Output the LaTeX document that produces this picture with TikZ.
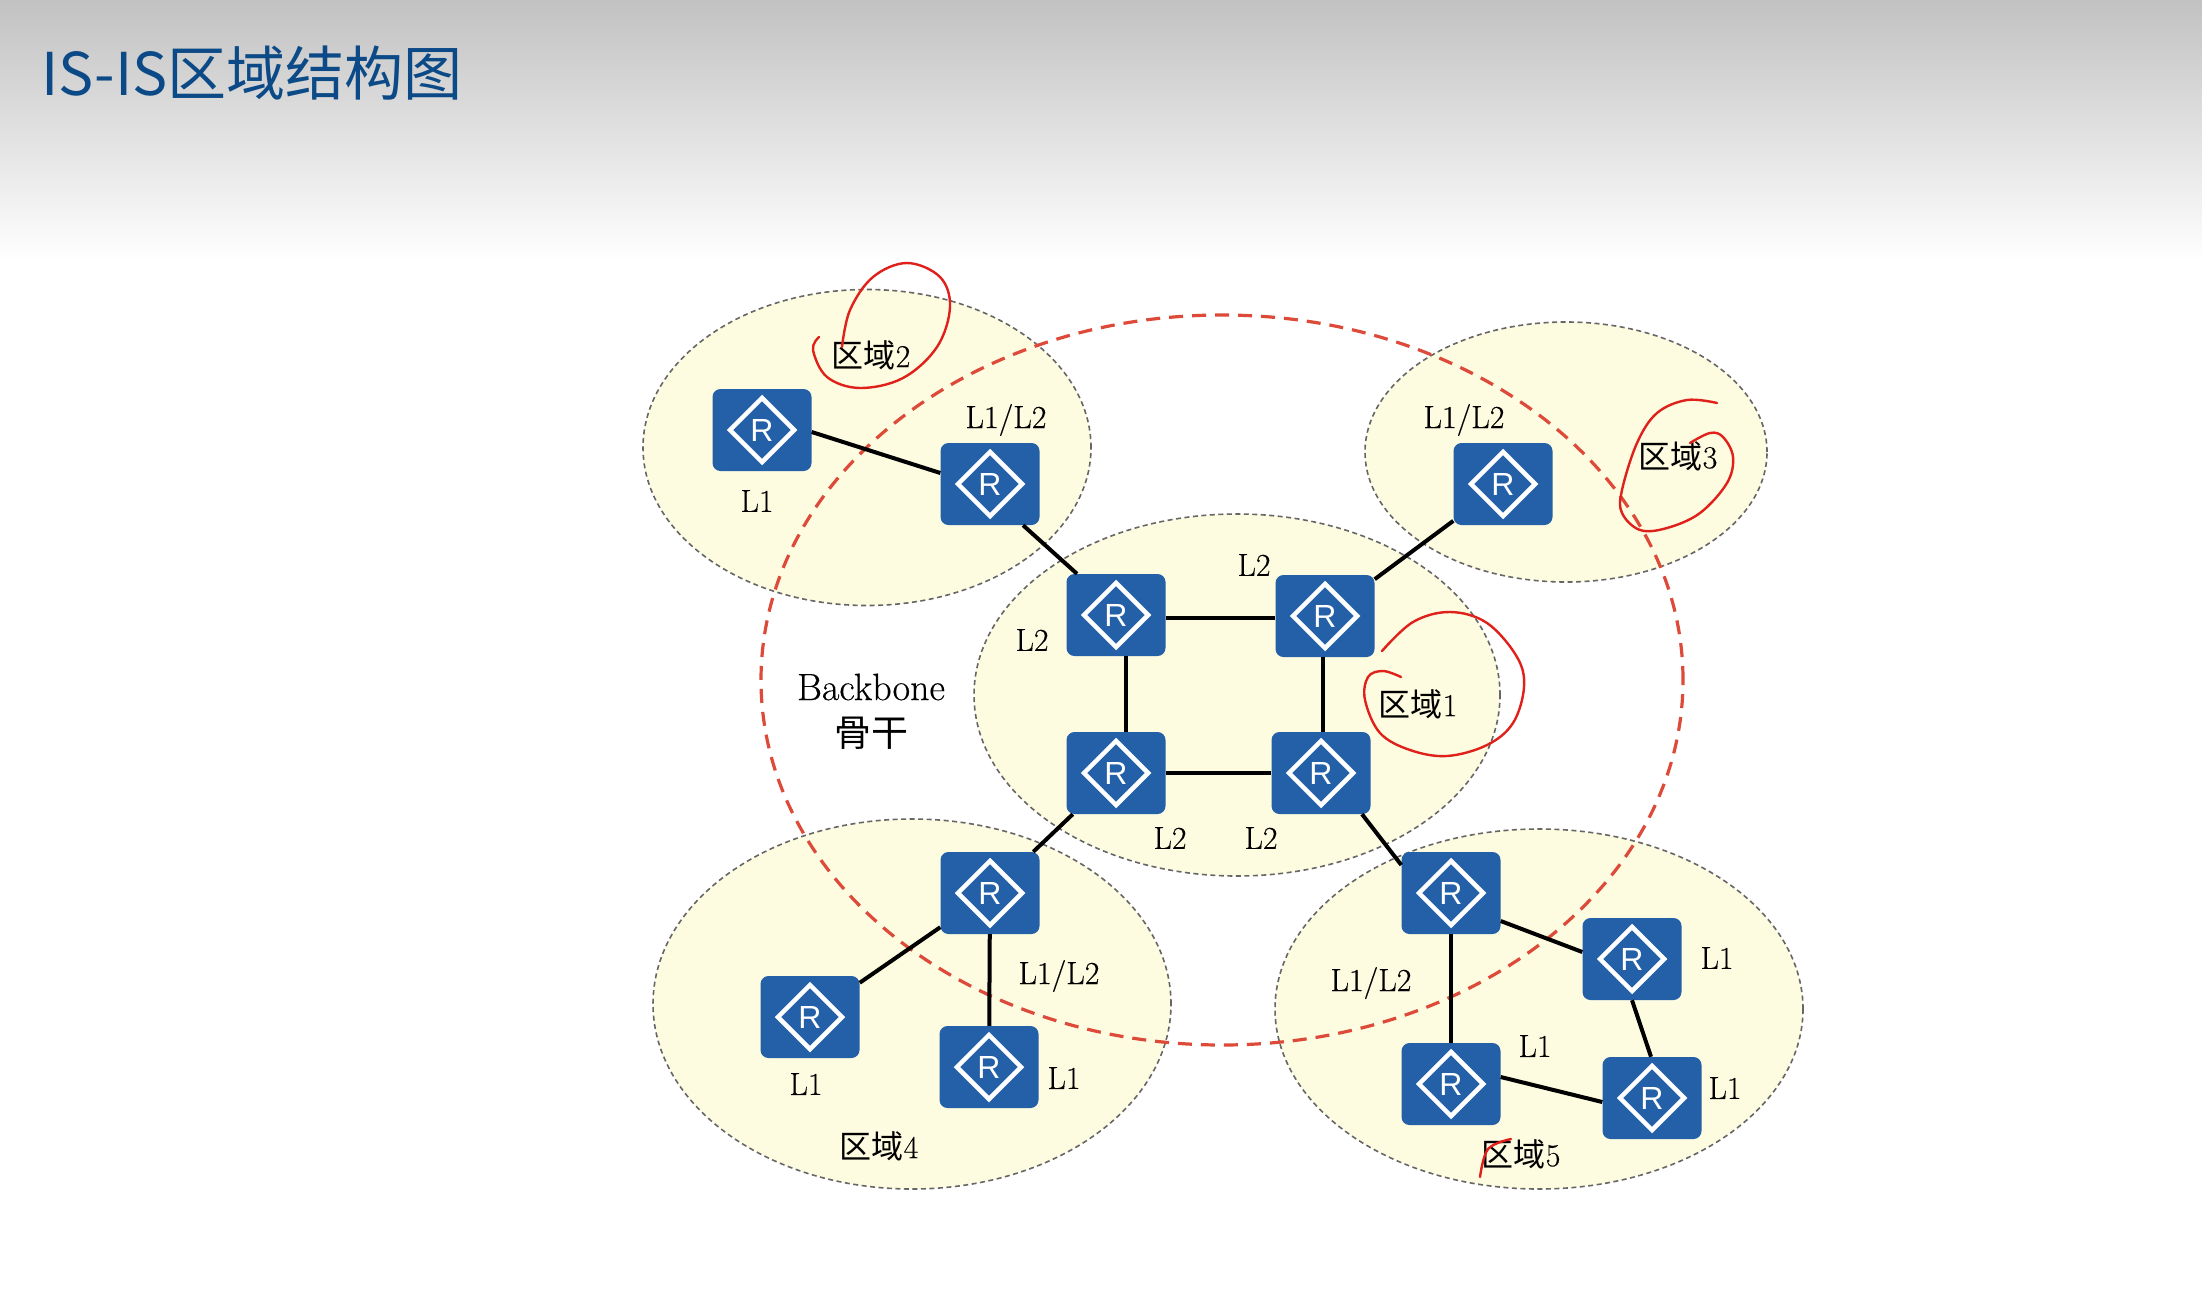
\documentclass[tikz,border=0pt]{standalone}
\usepackage{fontspec}
\usetikzlibrary{shapes.geometric}
\newfontfamily\cjk{Noto Sans CJK SC}
\newfontfamily\rfont{Liberation Sans}
\newfontfamily\lblfont[FakeBold=0.35]{Latin Modern Roman}
\definecolor{routerblue}{HTML}{2460A7}
\definecolor{areafill}{HTML}{FDFBE0}
\definecolor{areaedge}{HTML}{666666}
\definecolor{backbonered}{HTML}{DD4A3A}
\definecolor{penred}{HTML}{E0201A}
\definecolor{titleblue}{HTML}{0B4A87}
\tikzset{
  area/.style={fill=areafill,draw=areaedge,line width=1.6pt,dash pattern=on 5pt off 3.5pt},
  router/.style={rectangle,fill=routerblue,rounded corners=8pt,minimum width=99pt,minimum height=82pt,inner sep=0pt},
  routermark/.style={diamond,draw=white,line width=4.5pt,aspect=1,minimum width=66pt,minimum height=66pt,inner sep=0pt,text=white,font=\rfont\fontsize{32}{34}\selectfont},
  link/.style={draw=black,line width=4pt},
  lbl/.style={inner sep=0pt,text=black,font=\lblfont\fontsize{32}{34}\selectfont},
  pen/.style={draw=penred,line width=2.4pt,line cap=round},
}
\begin{document}
\begin{tikzpicture}[x=1pt,y=-1pt]
\useasboundingbox (0,0) rectangle (2202,1301);
\fill[white] (0,0) rectangle (2202,1301);
\shade[top color=black!24,bottom color=white] (0,0) rectangle (2202,262);
\node[anchor=west,inner sep=0pt,text=titleblue,font=\cjk\fontsize{59}{63}\selectfont] (title) at (41,73) {IS-IS区域结构图};

% areas
\draw[area] (867,447.5) ellipse [x radius=224pt,y radius=158pt];
\draw[area] (1566,452) ellipse [x radius=201pt,y radius=130pt];
\draw[area] (1237,695) ellipse [x radius=263pt,y radius=181pt];
\draw[area] (912,1004) ellipse [x radius=259pt,y radius=185pt];
\draw[area] (1539,1009) ellipse [x radius=264pt,y radius=180pt];
% backbone
\draw[draw=backbonered,line width=3.2pt,dash pattern=on 14pt off 9pt] (1222,680) ellipse [x radius=461pt,y radius=365pt];

% routers
\node[router] (rA) at (762,430) {};
\node[router] (rB) at (990,484) {};
\node[router] (rC) at (1503,484) {};
\node[router] (rTL) at (1116,615) {};
\node[router] (rTR) at (1325,616) {};
\node[router] (rBL) at (1116,773) {};
\node[router] (rBR) at (1321,773) {};
\node[router] (rD) at (990,893) {};
\node[router] (rE) at (810,1017) {};
\node[router] (rF) at (989,1067) {};
\node[router] (rG) at (1451,893) {};
\node[router] (rH) at (1632,959) {};
\node[router] (rI) at (1451,1084) {};
\node[router] (rJ) at (1652,1098) {};
\foreach \n in {rA,rB,rC,rTL,rTR,rBL,rBR,rD,rE,rF,rG,rH,rI,rJ}
  \node[routermark,name=\n m] at (\n) {R};

% links
\draw[link] ([yshift=-2pt]rA.east) -- ([yshift=11pt]rB.west);
\draw[link] ([xshift=33pt]rB.south) -- ([xshift=-39pt]rTL.north);
\draw[link] (rTR) -- (rC);
\draw[link] ([yshift=-3pt]rTL.east) -- ([yshift=-2pt]rTR.west);
\draw[link] (rBL) -- (rBR);
\draw[link] ([xshift=10pt]rTL.south) -- ([xshift=10pt]rBL.north);
\draw[link] ([xshift=-2pt]rTR.south) -- ([xshift=2pt]rBR.north);
\draw[link] (rBL) -- (rD);
\draw[link] ([xshift=41pt]rBR.south) -- ([yshift=28pt]rG.west);
\draw[link] (rD) -- (rE);
\draw[link] (rD) -- (rF);
\draw[link] ([yshift=-28pt]rG.east) -- ([yshift=7pt]rH.west);
\draw[link] (rG) -- (rI);
\draw[link] (rH.south) -- ([xshift=-1pt]rJ.north);
\draw[link] ([yshift=7pt]rI.east) -- ([yshift=-4pt]rJ.west);

% labels
\node[lbl] (t1) at (871,355) {{\cjk 区域}2};
\node[lbl] (t2) at (757,501) {L1};
\node[lbl] (t3) at (1006,420) {L1/L2};
\node[lbl] (t4) at (1464,420) {L1/L2};
\node[lbl] (t5) at (1678,456) {{\cjk 区域}3};
\node[lbl] (t6) at (1254,565) {L2};
\node[lbl] (t7) at (1032,640) {L2};
\node[lbl] (t8) at (1418,704) {{\cjk 区域}1};
\node[lbl] (t9) at (1170,838) {L2};
\node[lbl] (t10) at (1261,838) {L2};
\node[lbl,font=\lblfont\fontsize{38}{40}\selectfont] (t11) at (871,687) {Backbone};
\node[lbl,font=\cjk\fontsize{37}{39}\selectfont] (t12) at (871,733) {骨干};
\node[lbl] (t13) at (1059,976) {L1/L2};
\node[lbl] (t14) at (806,1084) {L1};
\node[lbl] (t15) at (1064,1078) {L1};
\node[lbl] (t16) at (879,1146) {{\cjk 区域}4};
\node[lbl] (t17) at (1371,983) {L1/L2};
\node[lbl] (t18) at (1717,958) {L1};
\node[lbl] (t19) at (1535,1046) {L1};
\node[lbl] (t20) at (1725,1088) {L1};
\node[lbl] (t21) at (1521,1154) {{\cjk 区域}5};

% pen marks
\draw[pen] plot[smooth,tension=0.6] coordinates {(819,337) (813,350) (827,377) (860,388) (903,378) (937,347) (950,307) (940,277) (907,263) (873,277) (850,310) (842,347)};
\draw[pen] plot[smooth,tension=0.6] coordinates {(1717,403) (1687,400) (1657,413) (1637,443) (1622,490) (1622,513) (1640,530) (1667,528) (1700,513) (1727,483) (1733,457) (1723,437) (1710,433) (1690,443)};
\draw[pen] plot[smooth,tension=0.6] coordinates {(1382,651) (1413,622) (1450,612) (1487,623) (1517,657) (1524,687) (1513,723) (1487,745) (1447,756) (1410,750) (1380,733) (1365,700) (1368,677) (1383,671) (1401,677)};
\draw[pen] plot[smooth,tension=0.6] coordinates {(1511,1139) (1488,1149) (1480,1177)};
\end{tikzpicture}
\end{document}
